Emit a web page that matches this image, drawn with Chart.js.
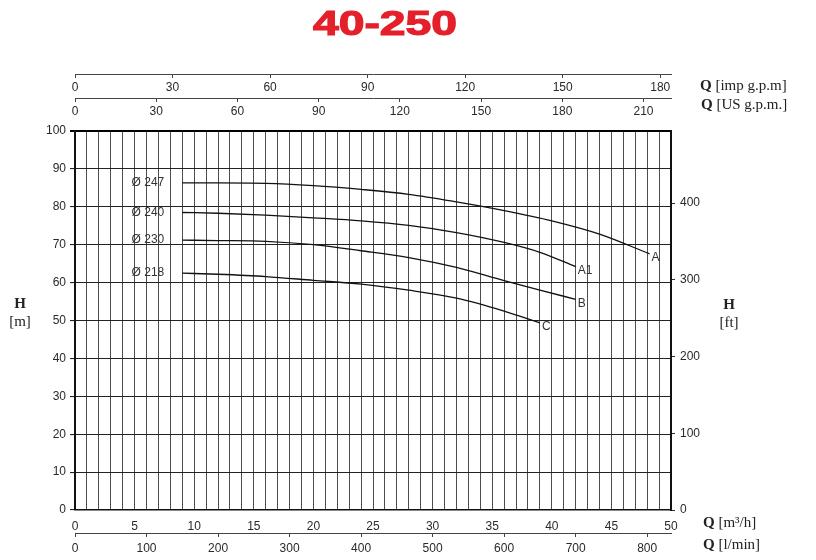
<!DOCTYPE html>
<html>
<head>
<meta charset="utf-8">
<script src="https://cdn.jsdelivr.net/npm/chart.js@4.4.1/dist/chart.umd.min.js"></script>
<style>
html, body { margin: 0; padding: 0; background: #fff; }
#wrap { width: 816px; height: 560px; }
</style>
</head>
<body>
<div id="wrap"><canvas id="chartCurve" width="816" height="560"></canvas></div>
<script>
// pump curves, flow in m3/h, head in m
const flowA = [9, 12, 16, 20, 24, 28, 32, 36, 40, 44, 48.2];
const headA = [86.3, 86.3, 86.2, 85.6, 84.6, 83.3, 81.3, 79.0, 76.3, 72.8, 67.6];
const flowA1 = [9, 12, 16, 20, 24, 28, 32, 36, 39, 42];
const headA1 = [78.5, 78.3, 77.8, 77.1, 76.3, 75.1, 73.2, 70.6, 68.0, 64.2];
const flowB = [9, 12, 16, 20, 24, 28, 32, 36, 39, 42];
const headB = [71.2, 71.1, 70.9, 70.0, 68.4, 66.6, 64.0, 60.5, 58.0, 55.6];
const flowC = [9, 12, 16, 20, 24, 28, 32, 36, 39];
const headC = [62.5, 62.2, 61.6, 60.6, 59.6, 58.0, 55.9, 52.5, 49.4];

const diameters = ['Ø 247', 'Ø 240', 'Ø 230', 'Ø 218'];
const curveNames = ['A', 'A1', 'B', 'C'];

// axis ranges
const maxFlow = 50;          // m3/h
const maxHead = 100;         // m
const maxLmin = maxFlow * 1000 / 60;
const maxUS = maxFlow * 4.4029;
const maxImp = maxFlow * 3.6661;
const maxFt = 494;           // as drawn on the sheet

const tickFont = { family: '"Liberation Sans", Arial, sans-serif', size: 12 };
const tickColor = '#2a2a2a';

function pts(xs, ys) {
  return xs.map((v, i) => ({ x: v, y: ys[i] }));
}

const series = [[flowA, headA], [flowA1, headA1], [flowB, headB], [flowC, headC]];

const labelPlugin = {
  id: 'sheetText',
  afterDraw(chart) {
    const { ctx } = chart;
    const x = chart.scales.x, y = chart.scales.y;
    ctx.save();

    // title
    ctx.font = 'bold 35px "Liberation Sans", Arial, sans-serif';
    ctx.fillStyle = '#e4202a';
    ctx.strokeStyle = '#e4202a';
    ctx.lineWidth = 1.2;
    ctx.textAlign = 'center';
    ctx.textBaseline = 'alphabetic';
    const tw = ctx.measureText('40-250').width;
    ctx.translate(385, 35);
    ctx.scale(144 / tw, 1);
    ctx.fillText('40-250', 0, 0);
    ctx.strokeText('40-250', 0, 0);
    ctx.setTransform(1, 0, 0, 1, 0, 0);

    // curve labels
    ctx.font = '12px "Liberation Sans", Arial, sans-serif';
    ctx.fillStyle = '#333';
    ctx.textBaseline = 'middle';
    series.forEach((s, i) => {
      const fx = s[0], hy = s[1];
      ctx.textAlign = 'right';
      ctx.fillText(diameters[i], x.getPixelForValue(fx[0]) - 18, y.getPixelForValue(hy[0]));
      ctx.textAlign = 'left';
      const n = fx.length - 1;
      ctx.fillText(curveNames[i], x.getPixelForValue(fx[n]) + 2, y.getPixelForValue(hy[n]) + 4);
    });

    // unit captions
    ctx.fillStyle = '#222';
    function unit(px, py, head, rest) {
      ctx.textAlign = 'left';
      ctx.font = 'bold 15px "Liberation Serif", "DejaVu Serif", serif';
      ctx.fillText(head, px, py);
      const w = ctx.measureText(head + ' ').width;
      ctx.font = '15px "Liberation Serif", "DejaVu Serif", serif';
      ctx.fillText(rest, px + w, py);
    }
    unit(700, 86, 'Q', '[imp g.p.m]');
    unit(701, 105, 'Q', '[US g.p.m.]');
    unit(703, 523, 'Q', '[m³/h]');
    unit(703, 545, 'Q', '[l/min]');

    ctx.textAlign = 'center';
    ctx.font = 'bold 15px "Liberation Serif", "DejaVu Serif", serif';
    ctx.fillText('H', 20, 304);
    ctx.fillText('H', 729, 305);
    ctx.font = '15px "Liberation Serif", "DejaVu Serif", serif';
    ctx.fillText('[m]', 20, 322);
    ctx.fillText('[ft]', 729, 323);
    ctx.restore();
  }
};

new Chart(document.getElementById('chartCurve').getContext('2d'), {
  type: 'line',
  data: {
    datasets: series.map((s, i) => ({
      label: diameters[i],
      data: pts(s[0], s[1]),
      borderColor: '#111',
      borderWidth: 1.3,
      pointRadius: 0,
      fill: false,
      cubicInterpolationMode: 'monotone',
      xAxisID: 'x',
      yAxisID: 'y'
    }))
  },
  options: {
    responsive: false,
    animation: false,
    devicePixelRatio: 1,
    layout: { padding: { top: 131, left: 0, right: 0, bottom: 0 } },
    plugins: { legend: { display: false }, title: { display: false }, tooltip: { enabled: false } },
    scales: {
      x: {
        type: 'linear', position: 'bottom', weight: 0, min: 0, max: maxFlow,
        ticks: {
          stepSize: 1, autoSkip: false, maxRotation: 0, padding: 9,
          color: tickColor, font: tickFont,
          callback: v => (v % 5 === 0 ? v : '')
        },
        grid: { color: '#4d4d4d', lineWidth: 1, drawTicks: false },
        border: { color: '#111', width: 1.5 },
        afterFit: s => { s.height = 23; }
      },
      xl: {
        type: 'linear', position: 'bottom', weight: 1, min: 0, max: maxLmin,
        ticks: { stepSize: 100, includeBounds: false, maxRotation: 0, padding: 4, color: tickColor, font: tickFont },
        grid: { drawOnChartArea: false, tickLength: 4, color: '#444' },
        border: { color: '#444', width: 1 },
        afterFit: s => { s.height = 27; }
      },
      xus: {
        type: 'linear', position: { y: 108.7 }, min: 0, max: maxUS,
        ticks: { stepSize: 30, includeBounds: false, maxRotation: 0, padding: 3, color: tickColor, font: tickFont },
        grid: { drawOnChartArea: false, tickLength: 3, color: '#444' },
        border: { color: '#444', width: 1 }
      },
      ximp: {
        type: 'linear', position: { y: 114.8 }, min: 0, max: maxImp,
        ticks: { stepSize: 30, includeBounds: false, maxRotation: 0, padding: 3, color: tickColor, font: tickFont },
        grid: { drawOnChartArea: false, tickLength: 3, color: '#444' },
        border: { color: '#444', width: 1 }
      },
      y: {
        type: 'linear', position: 'left', min: 0, max: maxHead,
        ticks: { stepSize: 10, padding: 4, color: tickColor, font: tickFont },
        grid: {
          color: ctx => (ctx.tick && ctx.tick.value === maxHead ? '#000' : '#222'),
          lineWidth: ctx => (ctx.tick && ctx.tick.value === maxHead ? 2 : 1.1),
          tickLength: 5
        },
        border: { color: '#111', width: 2 },
        afterFit: s => { s.width = 75; }
      },
      yft: {
        type: 'linear', position: 'right', min: 0, max: maxFt,
        ticks: {
          stepSize: 50, includeBounds: false, padding: 5, color: tickColor, font: tickFont,
          callback: v => (v % 100 === 0 ? v : null)
        },
        grid: { drawOnChartArea: false, tickLength: 4, color: '#333' },
        border: { color: '#111', width: 2 },
        afterFit: s => { s.width = 145; }
      }
    }
  },
  plugins: [labelPlugin]
});
</script>
</body>
</html>
